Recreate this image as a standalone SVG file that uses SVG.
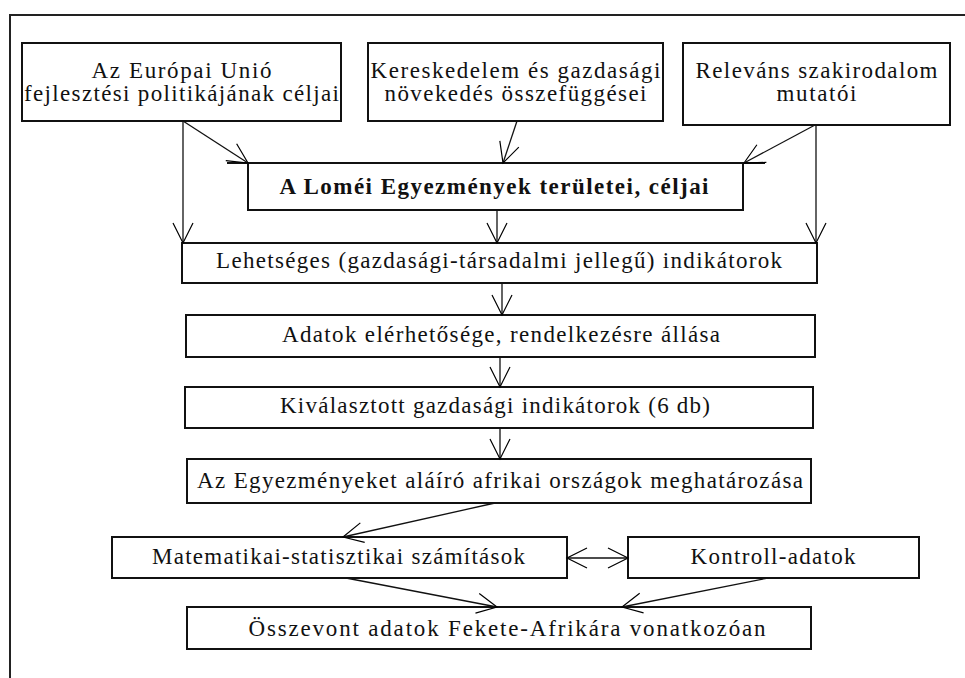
<svg xmlns="http://www.w3.org/2000/svg" width="965" height="678" viewBox="0 0 965 678">
<defs>
<marker id="ah" markerUnits="userSpaceOnUse" markerWidth="24" markerHeight="24" refX="20" refY="10" orient="auto-start-reverse" viewBox="0 0 24 20" overflow="visible">
<path d="M0,0 L20,10 L0,20" fill="none" stroke="#000" stroke-width="1.2"/>
</marker>
</defs>
<style>
.box{fill:#fff;stroke:#111;stroke-width:2}
.t{font-family:"Liberation Serif","Times New Roman",serif;font-size:23px;fill:#111;text-anchor:middle}
.b{font-weight:bold}
.c{fill:none;stroke:#111;stroke-width:1.3}
.frame{fill:none;stroke:#222;stroke-width:2}
</style>
<rect x="0" y="0" width="965" height="678" fill="#fff"/>
<path class="frame" d="M10,678 V15 H965"/>

<g id="n1"><rect class="box" x="22" y="43" width="319" height="78"/>
<text class="t" x="181.5" y="78" textLength="180">Az Európai Unió</text>
<text class="t" x="181.5" y="101" textLength="315">fejlesztési politikájának céljai</text></g>

<g id="n2"><rect class="box" x="368" y="43" width="295" height="78"/>
<text class="t" x="515.5" y="78" textLength="290">Kereskedelem és gazdasági</text>
<text class="t" x="515.5" y="101" textLength="262">növekedés összefüggései</text></g>

<g id="n3"><rect class="box" x="683" y="43" width="267" height="82"/>
<text class="t" x="816.5" y="78" textLength="242">Releváns szakirodalom</text>
<text class="t" x="816.5" y="101" textLength="80">mutatói</text></g>

<g id="n4"><rect class="box" x="248" y="163" width="495" height="47"/>
<line x1="227" y1="163" x2="765" y2="163" stroke="#111" stroke-width="2"/>
<text class="t b" x="494" y="194" textLength="429">A Loméi Egyezmények területei, céljai</text></g>

<g id="n5"><rect class="box" x="182" y="243" width="635" height="40"/>
<text class="t" x="499" y="268" textLength="566">Lehetséges (gazdasági-társadalmi jellegű) indikátorok</text></g>

<g id="n6"><rect class="box" x="186" y="315" width="629" height="42"/>
<text class="t" x="501" y="342" textLength="438">Adatok elérhetősége, rendelkezésre állása</text></g>

<g id="n7"><rect class="box" x="185" y="387" width="628" height="41"/>
<text class="t" x="495" y="413" textLength="430">Kiválasztott gazdasági indikátorok (6 db)</text></g>

<g id="n8"><rect class="box" x="187" y="459" width="624" height="44"/>
<text class="t" x="500" y="488" textLength="606">Az Egyezményeket aláíró afrikai országok meghatározása</text></g>

<g id="n9"><rect class="box" x="112" y="537" width="455" height="41"/>
<text class="t" x="338.5" y="564" textLength="373">Matematikai-statisztikai számítások</text></g>

<g id="n10"><rect class="box" x="628" y="537" width="291" height="41"/>
<text class="t" x="773" y="564" textLength="165">Kontroll-adatok</text></g>

<g id="n11"><rect class="box" x="187" y="607" width="624" height="42"/>
<text class="t" x="507" y="636" textLength="517">Összevont adatok Fekete-Afrikára vonatkozóan</text></g>

<g id="connectors">
<line class="c" x1="183" y1="121" x2="248" y2="163" marker-end="url(#ah)"/>
<line class="c" x1="183" y1="121" x2="183" y2="243" marker-end="url(#ah)"/>
<line class="c" x1="517" y1="121" x2="503" y2="163" marker-end="url(#ah)"/>
<line class="c" x1="815" y1="125" x2="744" y2="163" marker-end="url(#ah)"/>
<line class="c" x1="816" y1="125" x2="816" y2="243" marker-end="url(#ah)"/>
<line class="c" x1="497" y1="210" x2="497" y2="243" marker-end="url(#ah)"/>
<line class="c" x1="502" y1="283" x2="502" y2="315" marker-end="url(#ah)"/>
<line class="c" x1="500" y1="357" x2="500" y2="387" marker-end="url(#ah)"/>
<line class="c" x1="500" y1="428" x2="500" y2="459" marker-end="url(#ah)"/>
<line class="c" x1="495" y1="503" x2="343" y2="537" marker-end="url(#ah)"/>
<line class="c" x1="567" y1="558" x2="628" y2="558" marker-start="url(#ah)" marker-end="url(#ah)"/>
<line class="c" x1="346" y1="578" x2="497" y2="607" marker-end="url(#ah)"/>
<line class="c" x1="768" y1="578" x2="622" y2="607" marker-end="url(#ah)"/>
</g>
</svg>
